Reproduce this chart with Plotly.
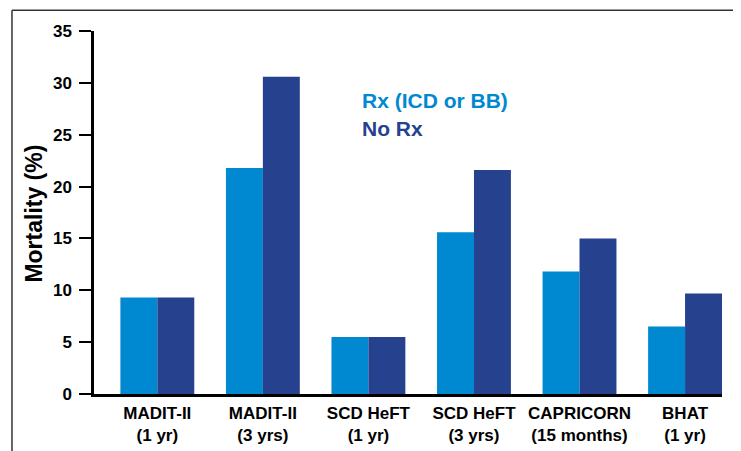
import plotly.graph_objects as go

categories = ["MADIT-II<br>(1 yr)", "MADIT-II<br>(3 yrs)", "SCD HeFT<br>(1 yr)",
              "SCD HeFT<br>(3 yrs)", "CAPRICORN<br>(15 months)", "BHAT<br>(1 yr)"]
rx_values = [9.3, 21.8, 5.5, 15.6, 11.8, 6.5]
norx_values = [9.3, 30.6, 5.5, 21.6, 15.0, 9.7]
series_names = ["Rx (ICD or BB)", "No Rx"]
y_ticks = [0, 5, 10, 15, 20, 25, 30, 35]

LIGHT = "#0088D0"
DARK = "#26418E"
FONT = "Liberation Sans"

fig = go.Figure()
fig.add_trace(go.Bar(x=list(range(len(categories))), y=rx_values, name=series_names[0],
                     marker=dict(color=LIGHT, line=dict(width=0))))
fig.add_trace(go.Bar(x=list(range(len(categories))), y=norx_values, name=series_names[1],
                     marker=dict(color=DARK, line=dict(width=0))))

# page body adds an 8px offset; figure sized to fit window exactly
fig.update_layout(
    width=733, height=443,
    margin=dict(l=86, r=19, t=23, b=57),
    paper_bgcolor="white", plot_bgcolor="white",
    barmode="group", bargap=0.3, bargroupgap=0,
    showlegend=False,
    font=dict(family=FONT, color="black"),
)
fig.update_xaxes(
    range=[-0.6, 5.35], automargin=False,
    tickmode="array", tickvals=list(range(len(categories))), ticktext=["<b>%s</b>" % c for c in categories],
    tickfont=dict(size=17, family=FONT, color="black"),
    showline=True, linecolor="black", linewidth=2.5,
    ticks="", ticklabelstandoff=2, showgrid=False, zeroline=False,
)
fig.update_yaxes(
    range=[0, 35], automargin=False,
    tickmode="array", tickvals=y_ticks, ticktext=["<b>%d</b>" % v for v in y_ticks],
    tickfont=dict(size=17, family=FONT, color="black"),
    showline=True, linecolor="black", linewidth=2.5,
    ticks="outside", ticklen=12, tickwidth=2, tickcolor="black",
    ticklabelstandoff=4,
    showgrid=False, zeroline=False,
)

fig.add_annotation(text="<b>Mortality (%)</b>", textangle=-90, xref="paper", yref="paper",
                   x=-0.0955, y=0.497, showarrow=False, xanchor="center", yanchor="middle",
                   font=dict(size=23, family=FONT, color="black"))
fig.add_annotation(text="<b>%s</b>" % series_names[0], xref="paper", yref="paper",
                   x=0.4236, y=0.809, showarrow=False, xanchor="left", yanchor="middle",
                   font=dict(size=21, family=FONT, color=LIGHT))
fig.add_annotation(text="<b>%s</b>" % series_names[1], xref="paper", yref="paper",
                   x=0.4236, y=0.732, showarrow=False, xanchor="left", yanchor="middle",
                   font=dict(size=21, family=FONT, color=DARK))

# page frame (top and left border)
fig.add_shape(type="line", xref="paper", yref="paper", x0=-0.1306, x1=1.04, y0=1.057, y1=1.057,
              line=dict(color="#333333", width=1.5))
fig.add_shape(type="line", xref="paper", yref="paper", x0=-0.1306, x1=-0.1306, y0=1.057, y1=-0.2,
              line=dict(color="#333333", width=1.5))

fig.write_html("out.html")
